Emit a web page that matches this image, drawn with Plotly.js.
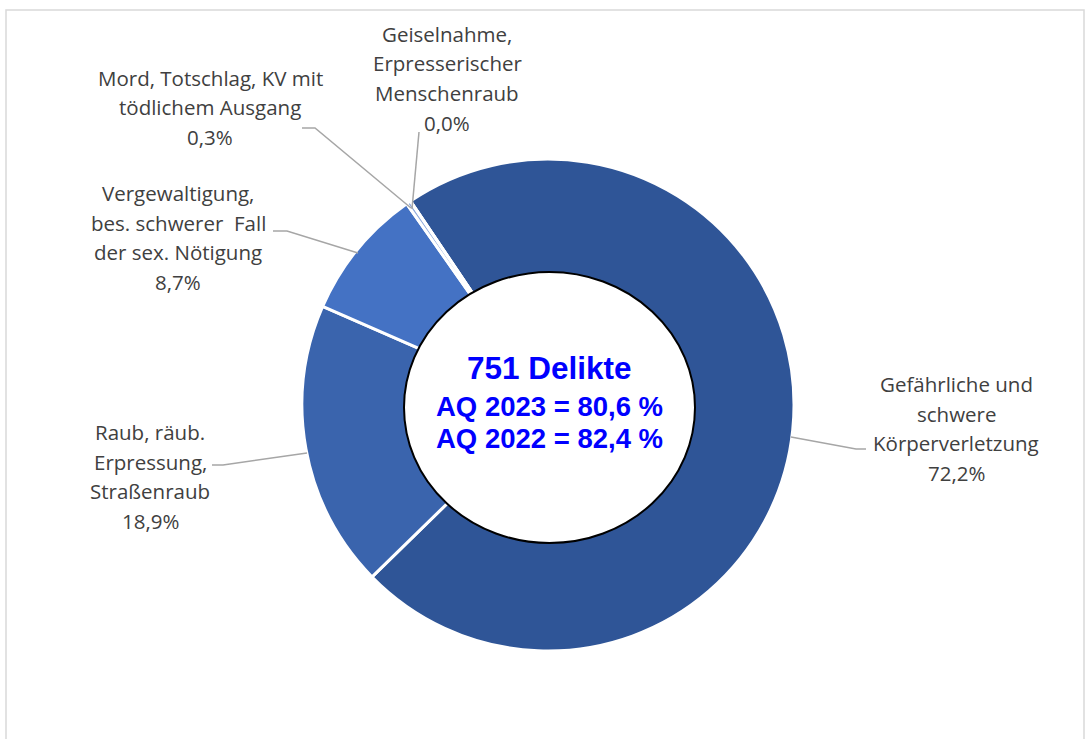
<!DOCTYPE html>
<html>
<head>
<meta charset="utf-8">
<script src="https://cdn.plot.ly/plotly-3.0.1.min.js"></script>
<style>html,body{margin:0;padding:0;background:#fff;}#chart{width:1086px;height:739px;}</style>
</head>
<body>
<div id="chart"></div>
<script>
// ---- data ----
const categories = [
  "Gefährliche und schwere Körperverletzung",
  "Raub, räub. Erpressung, Straßenraub",
  "Vergewaltigung, bes. schwerer  Fall der sex. Nötigung",
  "Mord, Totschlag, KV mit tödlichem Ausgang",
  "Geiselnahme, Erpresserischer Menschenraub"
];
const labelLines = [
  ["Gefährliche und", "schwere", "Körperverletzung"],
  ["Raub, räub.", "Erpressung,", "Straßenraub"],
  ["Vergewaltigung,", "bes. schwerer  Fall", "der sex. Nötigung"],
  ["Mord, Totschlag, KV mit", "tödlichem Ausgang"],
  ["Geiselnahme,", "Erpresserischer", "Menschenraub"]
];
const shares = [72.2, 18.9, 8.7, 0.3, 0.0];
const centerLines = ["751 Delikte", "AQ 2023 = 80,6 %", "AQ 2022 = 82,4 %"];
const colors = ["#2F5597", "#3A64AD", "#4472C4", "#8FAADC", "#B4C7E7"];

// ---- layout helpers (pixel -> paper) ----
const W = 1086, H = 739;
const px = x => x / W;
const py = y => 1 - y / H;

const cx = 548, cy = 405, R = 246;

// label anchor positions (center x, first line center y) in px
const labelPos = [[956, 384], [150, 432], [178, 193], [210, 78], [447, 34]];
const lineGap = 29.5;
// center text line positions and sizes
const centerY = [368, 406, 438];
const centerSize = [31.5, 27.5, 27.5];
// leader lines (pixel paths)
const leaders = [
  [[791, 437], [856, 449], [866, 449]],
  [[307, 453], [223, 465], [212, 465]],
  [[358, 253], [287, 231], [273, 231]],
  [[411, 208], [315, 128], [302, 128]],
  [[412, 209], [419, 132]]
];

const annotations = [];
categories.forEach((c, i) => {
  const lines = labelLines[i].concat([shares[i].toFixed(1).replace('.', ',') + '%']);
  lines.forEach((t, k) => {
    annotations.push({
      xref: 'paper', yref: 'paper', x: px(labelPos[i][0]), y: py(labelPos[i][1] + k * lineGap),
      xanchor: 'center', yanchor: 'middle', showarrow: false, text: t,
      font: {family: 'Open Sans, sans-serif', size: 20.5, color: '#404040'}
    });
  });
});
centerLines.forEach((t, k) => {
  annotations.push({
    xref: 'paper', yref: 'paper', x: px(549), y: py(centerY[k]), xanchor: 'center', yanchor: 'middle',
    showarrow: false, text: '<b>' + t + '</b>',
    font: {family: 'Liberation Sans, Arial, sans-serif', size: centerSize[k], color: '#0000FF'}
  });
});

const shapes = [
  {type: 'rect', xref: 'paper', yref: 'paper', x0: px(6), x1: px(1084), y0: py(800), y1: py(10),
   line: {color: '#D9D9D9', width: 1.5}, fillcolor: 'rgba(0,0,0,0)', layer: 'below'},
  {type: 'circle', xref: 'paper', yref: 'paper', x0: px(404), x1: px(695), y0: py(543), y1: py(272),
   line: {color: '#000000', width: 2}, fillcolor: '#FFFFFF', layer: 'above'}
];
leaders.forEach(pts => {
  shapes.push({
    type: 'path', xref: 'paper', yref: 'paper',
    path: pts.map((p, k) => (k ? 'L ' : 'M ') + px(p[0]) + ' ' + py(p[1])).join(' '),
    line: {color: '#A6A6A6', width: 1.5}
  });
});

const trace = {
  type: 'pie', labels: categories, values: shares, sort: false, direction: 'clockwise',
  rotation: -34, hole: 0.5, textinfo: 'none', hoverinfo: 'label+percent',
  marker: {colors: colors, line: {color: '#FFFFFF', width: 3}},
  domain: {x: [px(cx - R), px(cx + R)], y: [py(cy + R), py(cy - R)]},
  showlegend: false
};

Plotly.newPlot('chart', [trace], {
  width: W, height: H, margin: {l: 0, r: 0, t: 0, b: 0},
  paper_bgcolor: '#FFFFFF', showlegend: false,
  shapes: shapes, annotations: annotations
}, {displayModeBar: false, staticPlot: true});
</script>
</body>
</html>
